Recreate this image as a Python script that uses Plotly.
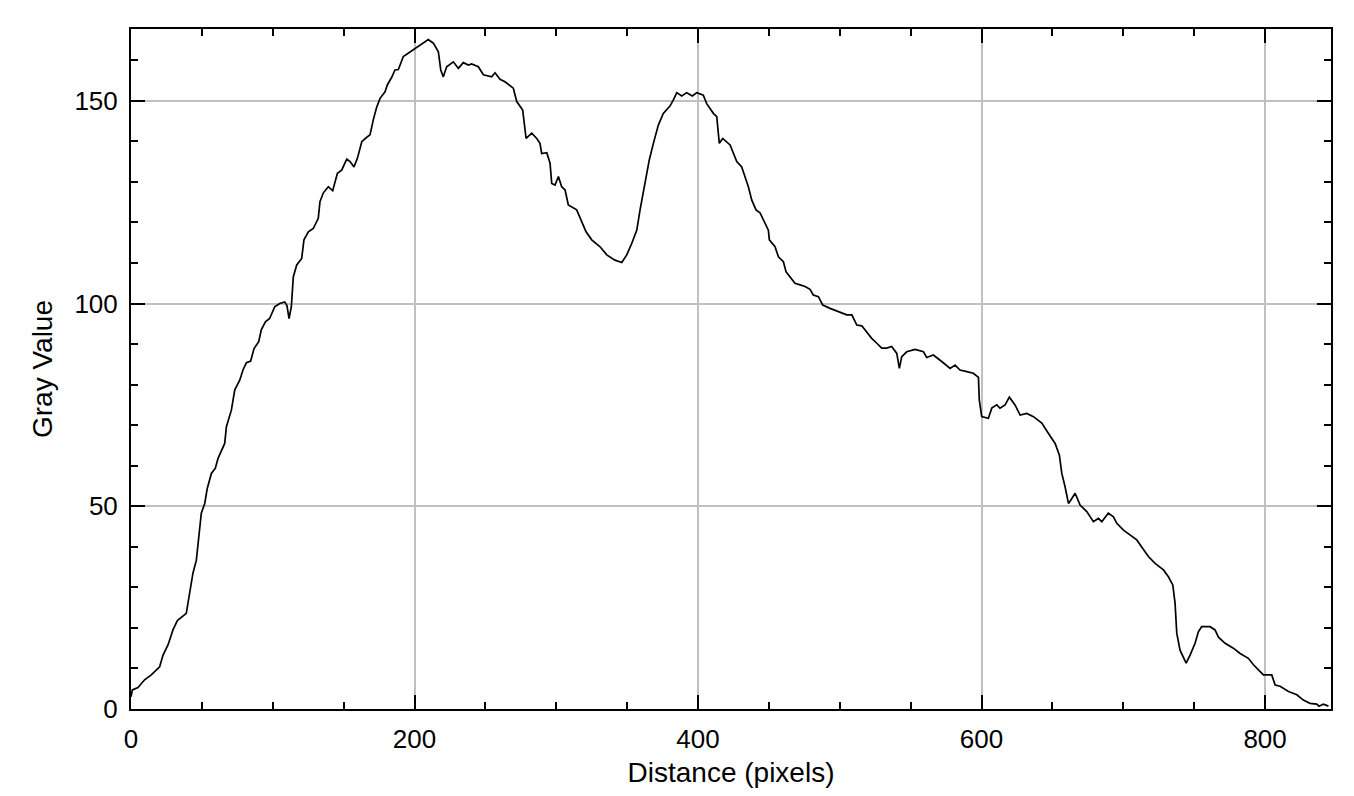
import plotly.graph_objs as go

# profile samples (distance in pixels, gray value)
distance = [0, 1, 4.9, 9.6, 14.3, 20.2, 22.6, 26.1, 29.6, 32.7, 39.0, 41.4, 43.7, 46.1, 47.7,
            49.6, 52.0, 53.8, 56.7, 59.5, 61.4, 66.1, 67.3, 70.8, 73.2, 76.7, 79.0, 81.4,
            84.4, 86.8, 90.1, 91.9, 94.8, 97.8, 101.4, 104.9, 108.4, 110.0, 111.5, 113.1,
            114.5, 116.9, 120.4, 122.0, 125.1, 128.6, 132.1, 133.3, 135.7, 139.2, 142.3,
            145.6, 148.6, 152.2, 154.5, 157.3, 159.7, 162.8, 166.3, 168.6, 170.9, 173.3,
            175.7, 179.2, 180.8, 183.9, 186.2, 188.6, 192.1, 195.6, 199.2, 202.7, 206.2,
            209.7, 213.3, 216.8, 218.5, 220.3, 222.7, 227.4, 230.9, 234.4, 238.0, 240.3,
            245.0, 248.6, 254.4, 256.8, 260.3, 263.8, 269.7, 272.1, 276.3, 278.7, 282.7,
            286.2, 288.5, 289.7, 293.3, 295.6, 296.8, 299.1, 301.5, 303.8, 306.2, 308.5,
            314.4, 317.9, 321.0, 325.0, 330.9, 335.6, 341.4, 346.2, 349.7, 353.2, 356.8,
            359.1, 361.4, 363.8, 365.6, 368.5, 372.0, 375.5, 380.2, 382.6, 385.0, 388.5,
            392.0, 396.0, 399.1, 403.7, 406.1, 410.8, 413.2, 415.0, 417.4, 422.6, 424.9,
            427.3, 430.8, 433.2, 435.5, 437.9, 440.9, 443.7, 446.1, 449.6, 450.3, 454.3,
            456.7, 460.2, 462.1, 464.9, 468.4, 472.0, 475.5, 479.0, 481.3, 484.9, 488.0,
            493.1, 499.0, 504.9, 508.5, 512.0, 515.5, 519.0, 522.5, 526.1, 529.6, 533.0,
            536.6, 540.2, 542.0, 543.7, 547.2, 553.1, 559.0, 561.3, 566.0, 571.9, 577.8,
            581.3, 584.8, 589.6, 594.2, 597.8, 598.4, 600.1, 604.8, 607.2, 610.7, 613.0,
            616.6, 619.6, 623.6, 627.2, 631.9, 636.6, 642.5, 647.1, 651.9, 654.9, 656.6,
            658.9, 661.3, 662.9, 666.0, 669.5, 674.2, 678.9, 682.4, 684.8, 689.4, 693.0,
            695.4, 700.1, 704.8, 709.5, 713.7, 717.7, 722.4, 728.3, 731.8, 734.9, 736.5,
            737.7, 740.0, 744.3, 747.1, 750.6, 753.0, 755.3, 761.2, 764.7, 767.1, 771.8,
            777.6, 782.4, 788.2, 791.8, 798.8, 804.7, 807.1, 810.6, 816.5, 822.4, 827.0,
            831.7, 836.4, 838.0, 841.1, 844.7]
gray_value = [3.0, 4.7, 5.3, 7.2, 8.4, 10.4, 13.3, 15.8, 19.5, 21.8, 23.6, 28.5, 33.5, 36.7, 42.5,
              48.3, 50.7, 54.4, 58.1, 59.4, 61.8, 65.5, 69.6, 73.7, 78.7, 81.1, 83.6, 85.4,
              85.8, 88.9, 90.6, 93.5, 95.5, 96.3, 99.2, 100.0, 100.4, 99.5, 96.3, 99.2,
              106.6, 109.5, 111.1, 115.7, 117.7, 118.5, 121.0, 125.1, 127.3, 128.8, 127.8,
              132.1, 132.9, 135.6, 135.0, 133.7, 135.8, 139.9, 141.0, 141.6, 145.3, 148.4,
              150.6, 152.2, 153.9, 155.8, 157.6, 157.7, 160.9, 161.7, 162.5, 163.5, 164.3,
              165.1, 164.2, 162.1, 157.6, 155.9, 158.4, 159.6, 158.0, 159.4, 158.8, 159.1,
              158.4, 156.4, 155.9, 156.9, 155.3, 154.7, 153.1, 149.8, 147.7, 140.7, 142.0,
              140.7, 139.5, 137.0, 137.2, 134.6, 129.6, 129.2, 131.3, 128.8, 128.0, 124.3,
              123.1, 120.2, 117.7, 115.7, 114.0, 112.0, 110.7, 110.1, 112.0, 114.8, 118.1,
              123.1, 127.2, 131.7, 135.4, 139.5, 144.0, 146.9, 148.7, 150.2, 152.0, 151.2,
              152.0, 151.2, 152.0, 151.4, 149.3, 146.9, 146.1, 139.5, 140.7, 139.1, 137.0,
              135.0, 133.7, 131.3, 128.8, 125.5, 123.1, 122.4, 120.6, 118.1, 115.7, 114.0,
              111.5, 110.3, 107.8, 106.6, 105.0, 104.6, 104.2, 103.5, 102.1, 101.7, 99.6,
              98.8, 98.0, 97.2, 97.2, 94.7, 94.5, 93.0, 91.4, 90.2, 89.0, 89.0,
              89.4, 87.7, 84.0, 86.9, 88.1, 88.7, 88.1, 86.7, 87.3, 85.7, 84.0,
              84.8, 83.6, 83.2, 82.8, 81.8, 76.2, 72.1, 71.7, 74.2, 75.0, 74.2,
              75.0, 76.9, 75.0, 72.5, 72.9, 72.1, 70.5, 68.0, 65.5, 62.6, 58.1,
              54.8, 50.7, 51.5, 53.2, 50.3, 48.7, 46.2, 47.0, 46.2, 48.3, 47.4,
              45.8, 44.1, 42.9, 41.7, 39.6, 37.6, 35.9, 34.3, 32.6, 30.6, 26.1,
              18.7, 14.5, 11.3, 13.3, 16.2, 19.1, 20.3, 20.3, 19.5, 17.7, 16.2,
              15.0, 13.7, 12.5, 10.9, 8.4, 8.4, 5.9, 5.6, 4.3, 3.5, 2.2,
              1.4, 1.2, 0.7, 1.2, 0.7]

x_ticks = [0, 200, 400, 600, 800]
y_ticks = [0, 50, 100, 150]

FONT = "Helvetica, Arial, Liberation Sans, sans-serif"

fig = go.Figure()
fig.add_trace(go.Scatter(x=distance, y=gray_value, mode="lines",
                         line=dict(color="black", width=1.7), showlegend=False))

axis_common = dict(
    showline=True, linecolor="black", linewidth=2, mirror="ticks",
    ticks="inside", ticklen=14, tickwidth=2, tickcolor="black",
    showgrid=True, gridcolor="#c0c0c0", gridwidth=1.5, zeroline=False,
    automargin=False,
    tickfont=dict(family=FONT, size=26, color="black"),
)

fig.update_xaxes(
    range=[0, 846.5], tickvals=x_ticks,
    minor=dict(dtick=50, tick0=0, ticks="inside", ticklen=7, tickwidth=2,
               tickcolor="black", showgrid=False),
    title=dict(text="Distance (pixels)", font=dict(family=FONT, size=28, color="black"), standoff=10),
    ticklabelstandoff=6,
    **axis_common,
)
fig.update_yaxes(
    range=[0, 167.7], tickvals=y_ticks,
    minor=dict(dtick=10, tick0=0, ticks="inside", ticklen=7, tickwidth=2,
               tickcolor="black", showgrid=False),
    title=dict(text="Gray Value", font=dict(family=FONT, size=28, color="black"), standoff=14),
    ticklabelstandoff=6,
    **axis_common,
)

# page body adds an 8px margin, so the figure is shrunk to fit the window
fig.update_layout(
    width=1338, height=780,
    margin=dict(l=123, r=15, t=21, b=79),
    paper_bgcolor="white", plot_bgcolor="white",
)

fig.write_html("out.html")
